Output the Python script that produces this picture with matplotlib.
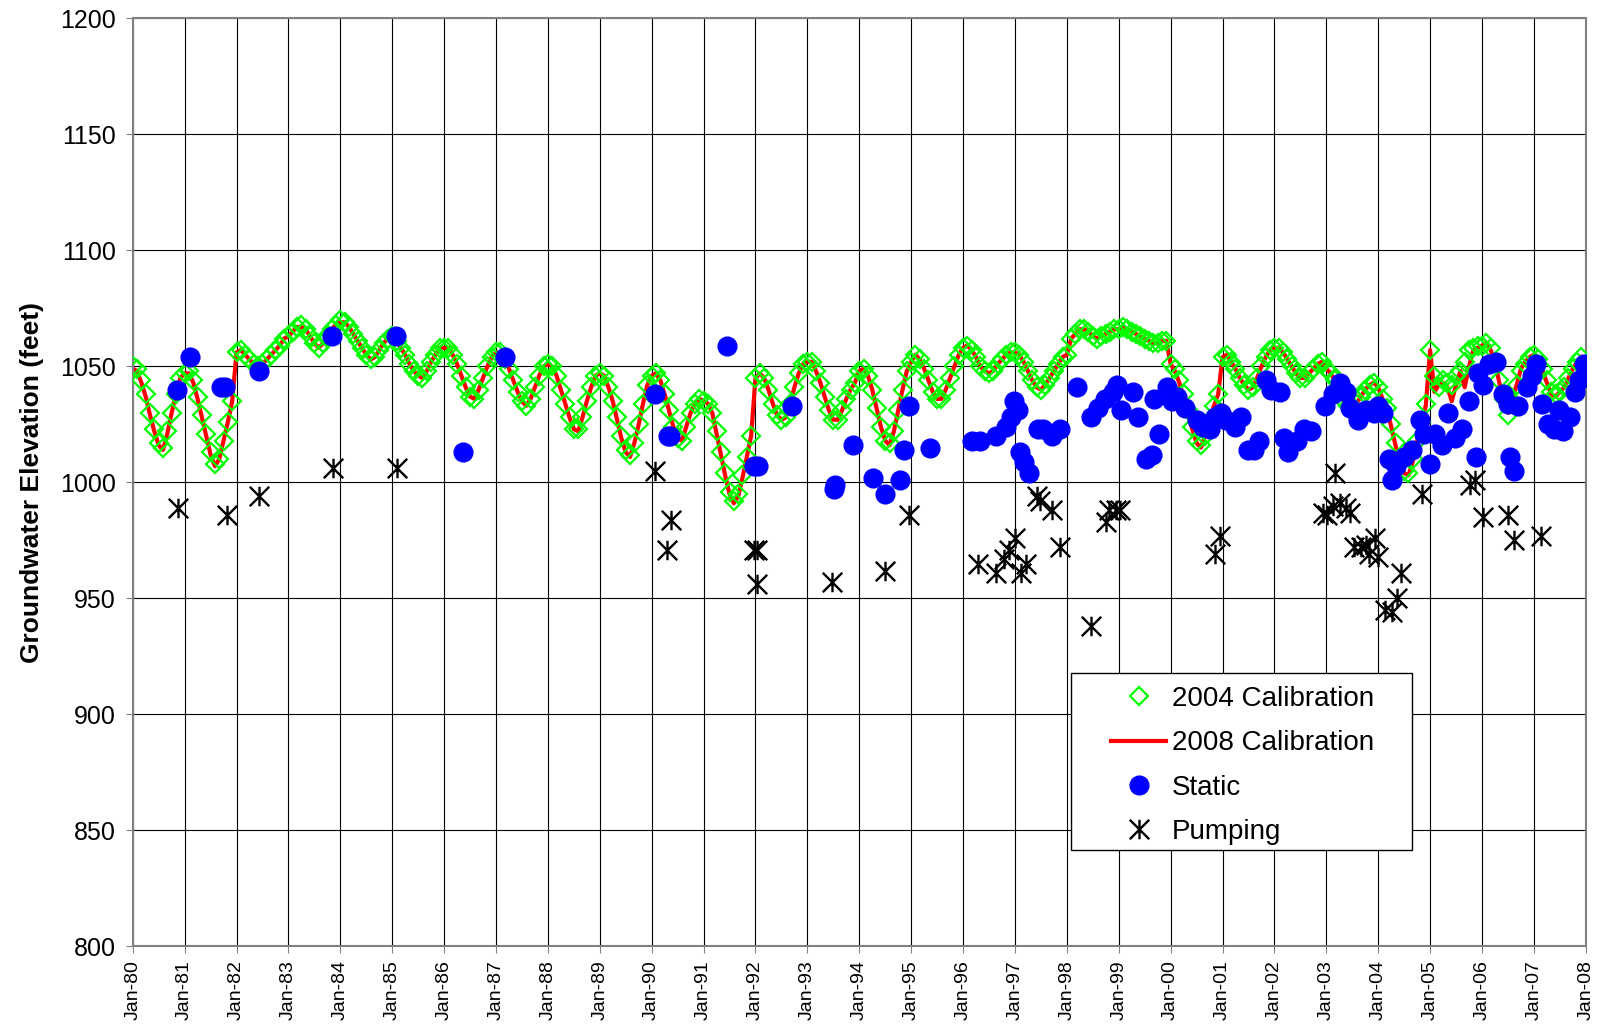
import numpy as np
import matplotlib
matplotlib.use("Agg")
import matplotlib.pyplot as plt
from matplotlib.path import Path
from matplotlib.patches import Rectangle

plt.rcParams['font.family'] = ['Liberation Sans', 'DejaVu Sans']

# monthly model heads, Jan-1980 .. Dec-2007
cal_2004 = [
    1050, 1049, 1044, 1038, 1030, 1023, 1017, 1015, 1022, 1030, 1038, 1045,
    1047, 1048, 1044, 1037, 1029, 1021, 1013, 1008, 1010, 1018, 1026, 1035,
    1056, 1057, 1055, 1053, 1051, 1050, 1051, 1053, 1055, 1057, 1059, 1062,
    1063, 1065, 1067, 1068, 1066, 1063, 1060, 1058, 1060, 1063, 1066, 1068,
    1070, 1069, 1067, 1064, 1061, 1058, 1055, 1053, 1054, 1057, 1060, 1062,
    1063, 1061, 1058, 1055, 1051, 1048, 1046, 1045, 1048, 1052, 1055, 1058,
    1058, 1058, 1055, 1051, 1046, 1041, 1037, 1036, 1040, 1045, 1050, 1054,
    1056, 1056, 1053, 1049, 1044, 1039, 1035, 1033, 1036, 1041, 1046, 1050,
    1051, 1050, 1046, 1040, 1034, 1028, 1023, 1023, 1028, 1035, 1041, 1046,
    1047, 1046, 1041, 1035, 1028, 1020, 1014, 1012, 1017, 1025, 1034, 1042,
    1046, 1047, 1044, 1038, 1031, 1024, 1019, 1018, 1024, 1030, 1034, 1036,
    1035, 1034, 1030, 1022, 1013, 1004, 996, 992, 995, 1003, 1011, 1020,
    1045, 1047, 1045, 1040, 1034, 1029, 1027, 1028, 1034, 1041, 1047, 1051,
    1052, 1052, 1048, 1043, 1037, 1031, 1027, 1027, 1031, 1036, 1040, 1043,
    1048, 1049, 1046, 1040, 1032, 1024, 1018, 1017, 1022, 1031, 1040, 1048,
    1052, 1055, 1053, 1049, 1044, 1039, 1036, 1036, 1040, 1045, 1050, 1055,
    1058, 1059, 1057, 1054, 1050, 1048, 1047, 1048, 1051, 1053, 1055, 1056,
    1056, 1055, 1052, 1048, 1044, 1041, 1040, 1042, 1045, 1048, 1051, 1054,
    1055, 1062, 1064, 1066, 1066, 1065, 1063, 1062, 1063, 1064, 1065, 1066,
    1066, 1067, 1066, 1065, 1064, 1063, 1062, 1061, 1060, 1060, 1061, 1061,
    1051, 1049, 1044, 1038, 1031, 1024, 1018, 1016, 1020, 1027, 1033, 1038,
    1054, 1055, 1052, 1049, 1045, 1042, 1040, 1041, 1045, 1050, 1054, 1057,
    1058, 1058, 1056, 1053, 1050, 1047, 1045, 1045, 1047, 1049, 1051, 1052,
    1049, 1047, 1044, 1039, 1035, 1033, 1033, 1034, 1037, 1040, 1042, 1043,
    1041, 1036, 1032, 1025, 1017, 1010, 1005, 1004, 1010, 1018, 1026, 1034,
    1057, 1046, 1041, 1044, 1043, 1042, 1046, 1048, 1052, 1057, 1058, 1059,
    1059, 1060, 1058, 1052, 1044, 1036, 1029, 1035, 1042, 1048, 1051, 1054,
    1055, 1053, 1049, 1044, 1039, 1038, 1039, 1041, 1045, 1049, 1052, 1054,
]

cal_2008 = [
    1049, 1048, 1043, 1037, 1029, 1022, 1016, 1014, 1021, 1030, 1038, 1045,
    1047, 1047, 1043, 1036, 1028, 1020, 1012, 1007, 1010, 1018, 1026, 1035,
    1056, 1057, 1055, 1053, 1051, 1050, 1051, 1053, 1055, 1057, 1059, 1062,
    1063, 1065, 1067, 1067, 1066, 1063, 1060, 1058, 1060, 1063, 1066, 1068,
    1069, 1069, 1067, 1064, 1061, 1058, 1055, 1053, 1054, 1057, 1060, 1062,
    1062, 1061, 1058, 1055, 1051, 1048, 1046, 1045, 1048, 1052, 1055, 1058,
    1058, 1058, 1055, 1051, 1046, 1041, 1037, 1036, 1040, 1045, 1050, 1054,
    1056, 1056, 1053, 1049, 1044, 1039, 1035, 1033, 1036, 1041, 1046, 1050,
    1051, 1050, 1046, 1040, 1034, 1028, 1023, 1022, 1028, 1035, 1041, 1046,
    1047, 1046, 1041, 1035, 1027, 1019, 1013, 1011, 1017, 1025, 1034, 1042,
    1046, 1047, 1044, 1038, 1031, 1024, 1019, 1018, 1024, 1030, 1034, 1036,
    1035, 1034, 1030, 1021, 1012, 1003, 995, 991, 994, 1002, 1011, 1020,
    1045, 1047, 1045, 1040, 1034, 1029, 1027, 1028, 1034, 1041, 1047, 1051,
    1052, 1052, 1048, 1043, 1037, 1031, 1027, 1027, 1031, 1036, 1040, 1043,
    1048, 1049, 1046, 1040, 1032, 1024, 1018, 1016, 1022, 1031, 1040, 1048,
    1052, 1055, 1053, 1049, 1044, 1039, 1036, 1036, 1040, 1045, 1050, 1055,
    1058, 1059, 1057, 1054, 1050, 1048, 1047, 1048, 1051, 1053, 1055, 1056,
    1056, 1055, 1052, 1048, 1044, 1041, 1040, 1042, 1045, 1048, 1051, 1054,
    1055, 1062, 1064, 1066, 1066, 1065, 1063, 1062, 1063, 1064, 1065, 1066,
    1066, 1067, 1066, 1065, 1064, 1063, 1062, 1061, 1060, 1060, 1061, 1061,
    1051, 1048, 1043, 1037, 1030, 1023, 1017, 1015, 1020, 1027, 1033, 1038,
    1054, 1055, 1052, 1049, 1045, 1042, 1040, 1041, 1045, 1050, 1054, 1057,
    1058, 1058, 1056, 1053, 1050, 1047, 1045, 1045, 1047, 1049, 1051, 1052,
    1049, 1047, 1044, 1039, 1035, 1033, 1033, 1034, 1037, 1040, 1042, 1043,
    1041, 1036, 1032, 1024, 1016, 1009, 1004, 1003, 1009, 1018, 1026, 1033,
    1057, 1039, 1042, 1043, 1041, 1035, 1042, 1048, 1041, 1050, 1057, 1058,
    1059, 1060, 1057, 1052, 1043, 1035, 1030, 1036, 1042, 1049, 1052, 1054,
    1055, 1052, 1048, 1043, 1038, 1037, 1039, 1041, 1045, 1049, 1052, 1054,
]

# observed water levels (decimal year, elevation in feet)
static_year = [
    1980.85, 1981.10, 1981.70, 1981.78, 1982.44, 1983.84, 1985.08, 1986.36, 1987.18,
    1990.06, 1990.31, 1990.36, 1991.45, 1991.98, 1992.04, 1992.71, 1993.52, 1993.54,
    1993.87, 1994.27, 1994.50, 1994.78, 1994.86, 1994.96, 1995.37, 1996.17, 1996.33,
    1996.63, 1996.82, 1996.92, 1996.98, 1997.06, 1997.10, 1997.18, 1997.28, 1997.45,
    1997.55, 1997.71, 1997.87, 1998.20, 1998.46, 1998.60, 1998.73, 1998.89, 1998.97,
    1999.05, 1999.28, 1999.38, 1999.52, 1999.64, 1999.68, 1999.78, 1999.93, 2000.03,
    2000.13, 2000.27, 2000.50, 2000.62, 2000.76, 2000.86, 2000.98, 2001.06, 2001.25,
    2001.35, 2001.49, 2001.60, 2001.70, 2001.84, 2001.94, 2002.10, 2002.18, 2002.27,
    2002.43, 2002.57, 2002.71, 2002.98, 2003.12, 2003.26, 2003.37, 2003.45, 2003.61,
    2003.77, 2003.91, 2004.00, 2004.10, 2004.20, 2004.26, 2004.34, 2004.50, 2004.66,
    2004.80, 2004.89, 2004.99, 2005.09, 2005.23, 2005.35, 2005.48, 2005.62, 2005.74,
    2005.88, 2005.93, 2006.01, 2006.13, 2006.27, 2006.41, 2006.50, 2006.54, 2006.62,
    2006.70, 2006.86, 2006.96, 2007.04, 2007.16, 2007.27, 2007.39, 2007.49, 2007.57,
    2007.69, 2007.79, 2007.87, 2007.97,
]
static_elev = [
    1040, 1054, 1041, 1041, 1048, 1063, 1063, 1013, 1054,
    1038, 1020, 1020, 1059, 1007, 1007, 1033, 997, 999,
    1016, 1002, 995, 1001, 1014, 1033, 1015, 1018, 1018,
    1020, 1024, 1028, 1035, 1031, 1013, 1009, 1004, 1023,
    1023, 1020, 1023, 1041, 1028, 1032, 1036, 1039, 1042,
    1031, 1039, 1028, 1010, 1012, 1036, 1021, 1041, 1035,
    1037, 1032, 1027, 1024, 1023, 1028, 1030, 1027, 1024,
    1028, 1014, 1014, 1018, 1044, 1040, 1039, 1019, 1013,
    1018, 1023, 1022, 1033, 1038, 1043, 1039, 1032, 1027,
    1031, 1030, 1033, 1030, 1010, 1001, 1007, 1011, 1014,
    1027, 1021, 1008, 1021, 1016, 1030, 1019, 1023, 1035,
    1011, 1047, 1042, 1051, 1052, 1038, 1034, 1011, 1005,
    1033, 1041, 1046, 1051, 1034, 1025, 1023, 1031, 1022,
    1028, 1039, 1044, 1051,
]

pump_year = [
    1980.87, 1981.81, 1982.44, 1983.86, 1985.10, 1990.06, 1990.29, 1990.37, 1991.98,
    1992.02, 1992.02, 1993.48, 1994.50, 1994.96, 1996.29, 1996.63, 1996.78, 1996.88,
    1997.00, 1997.12, 1997.22, 1997.43, 1997.49, 1997.71, 1997.87, 1998.46, 1998.75,
    1998.81, 1998.95, 1999.03, 2000.86, 2000.96, 2002.94, 2003.02, 2003.12, 2003.16,
    2003.26, 2003.37, 2003.45, 2003.53, 2003.67, 2003.77, 2003.83, 2003.93, 2004.00,
    2004.14, 2004.26, 2004.36, 2004.44, 2004.85, 2005.77, 2005.86, 2006.02, 2006.51,
    2006.62, 2007.13,
]
pump_elev = [
    989, 986, 994, 1006, 1006, 1005, 971, 984, 971,
    971, 956, 957, 962, 986, 965, 961, 967, 971,
    976, 961, 965, 994, 992, 988, 972, 938, 983,
    988, 988, 988, 969, 977, 987, 986, 990, 1004,
    991, 989, 987, 972, 972, 973, 969, 976, 968,
    945, 944, 950, 961, 995, 999, 1001, 985, 986,
    975, 977,
]

year_ticks = list(range(1980, 2009))
tick_labels = [f"Jan-{y % 100:02d}" for y in year_ticks]

cal_x = 1980 + np.arange(len(cal_2004)) / 12.0

# Excel style star: an X with a vertical bar
star = Path([(-1, -1), (1, 1), (-1, 1), (1, -1), (0, -1), (0, 1)],
            [Path.MOVETO, Path.LINETO] * 3)

fig = plt.figure(figsize=(16.01, 10.32), dpi=100)
ax = fig.add_axes([0.0829, 0.0829, 0.9076, 0.8993])

h08, = ax.plot(cal_x, cal_2008, color="#FF0000", lw=3.0, zorder=2,
               label="2008 Calibration")
h04, = ax.plot(cal_x, cal_2004, ls="none", marker="D", ms=9.5, mfc="none",
               mec="#00FF00", mew=1.6, zorder=3, label="2004 Calibration")
hst, = ax.plot(static_year, static_elev, ls="none", marker="o", ms=13.5,
               color="#0000FF", zorder=4, label="Static")
hpu, = ax.plot(pump_year, pump_elev, ls="none", marker=star, ms=14,
               mfc="none", mec="black", mew=1.7, zorder=4, label="Pumping")

ax.set_xlim(1980, 2008)
ax.set_ylim(800, 1200)
ax.set_xticks(year_ticks)
ax.set_xticklabels(tick_labels, rotation=90, fontsize=14)
ax.set_yticks(np.arange(800, 1201, 50))
ax.tick_params(axis="y", labelsize=18, length=5, pad=7, color="#808080")
ax.tick_params(axis="x", length=5, pad=5, color="#808080")
ax.grid(True, color="black", lw=0.8)
ax.set_axisbelow(True)
for sp in ax.spines.values():
    sp.set_color("#808080")
    sp.set_linewidth(1.5)

ax.set_ylabel("Groundwater Elevation (feet)", fontsize=19, fontweight="bold",
              labelpad=12)

# legend box
ax.add_patch(Rectangle((0.6458, 0.1034), 0.2347, 0.1913, transform=ax.transAxes,
                       facecolor="white", edgecolor="black", lw=1.0, zorder=6))
leg = ax.legend([h04, h08, hst, hpu],
                ["2004 Calibration", "2008 Calibration", "Static", "Pumping"],
                loc="upper left", bbox_to_anchor=(0.6733, 0.2805), frameon=False,
                fontsize=20, handlelength=1.98, handletextpad=0.2,
                labelspacing=0.66, borderpad=0, borderaxespad=0)
leg.set_zorder(7)

plt.savefig("out.png", dpi=100)
plt.close()
